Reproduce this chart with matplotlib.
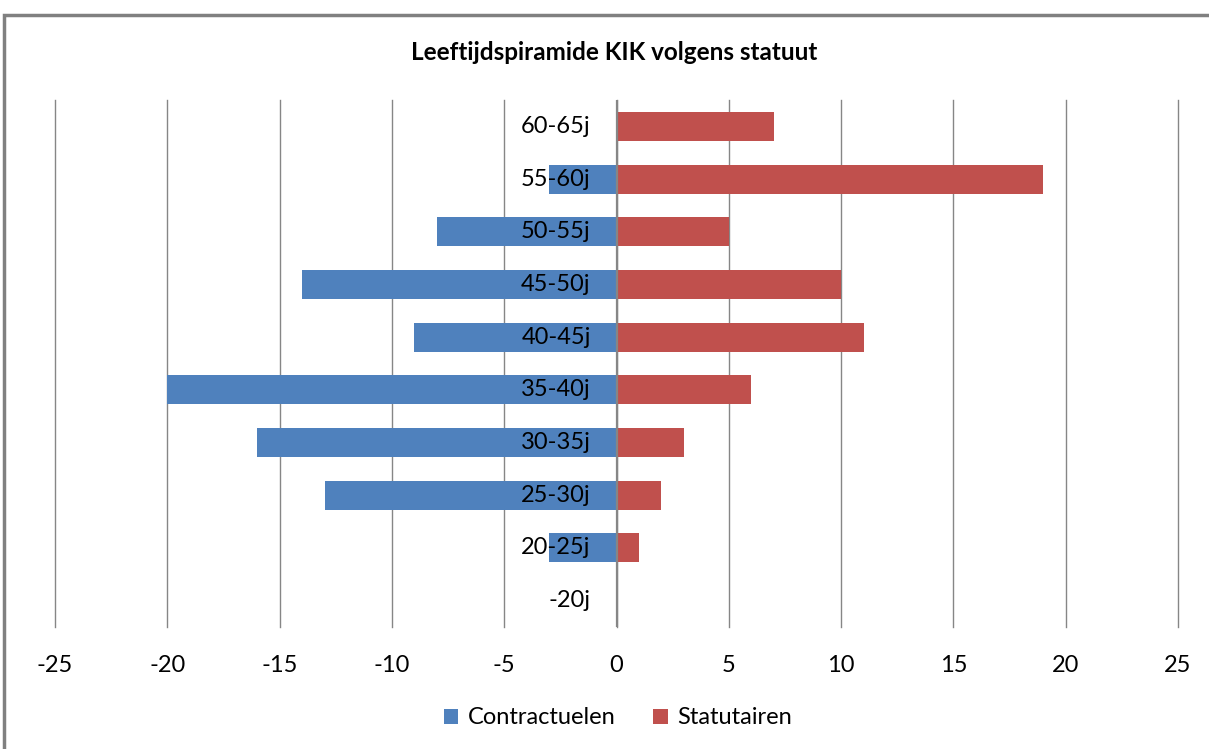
import numpy as np
import matplotlib
matplotlib.use('Agg')
import matplotlib.pyplot as plt
from matplotlib.patches import Rectangle

plt.rcParams['font.family'] = ['Lato', 'DejaVu Sans']

# leeftijdsgroepen, van onder naar boven
categories = ['-20j', '20-25j', '25-30j', '30-35j', '35-40j',
              '40-45j', '45-50j', '50-55j', '55-60j', '60-65j']
contractuelen = [0, -3, -13, -16, -20, -9, -14, -8, -3, 0]
statutairen = [0, 1, 2, 3, 6, 11, 10, 5, 19, 7]
xticks = [-25, -20, -15, -10, -5, 0, 5, 10, 15, 20, 25]

W, H = 1209, 749
fig = plt.figure(figsize=(W / 100, H / 100), dpi=100)
ax = fig.add_axes([55 / W, (H - 627) / H, (1178 - 55) / W, (627 - 100) / H])

y = np.arange(len(categories))
ax.barh(y, contractuelen, height=0.55, color='#4F81BD', label='Contractuelen', zorder=2)
ax.barh(y, statutairen, height=0.55, color='#C0504D', label='Statutairen', zorder=2)

ax.set_xlim(-25, 25)
ax.set_ylim(-0.5, len(categories) - 0.5)
ax.set_xticks(xticks)
ax.set_xticklabels([str(v) for v in xticks], fontsize=17)
ax.tick_params(axis='x', length=0, pad=20)
ax.set_yticks([])
for v in xticks:
    ax.axvline(v, color='#868686', lw=1, zorder=1, clip_on=False)
ax.axvline(0, color='#868686', lw=1.6, zorder=3)
for s in ax.spines.values():
    s.set_visible(False)

# labels naast de as
for yi, lab in zip(y, categories):
    ax.text(-1.15, yi, lab, ha='right', va='center', fontsize=17, zorder=4)

fig.text(614 / W, 1 - 53 / H, 'Leeftijdspiramide KIK volgens statuut',
         ha='center', va='center', fontsize=17.5, fontweight='bold')

leg = fig.legend(loc='center', bbox_to_anchor=(618 / W, 1 - 718 / H), ncol=2,
                 frameon=False, fontsize=17, handlelength=0.6, handleheight=0.6,
                 handletextpad=0.4, columnspacing=1.6)

# kader rond de grafiek (rechts en onder buiten beeld)
fig.patches.append(Rectangle((4 / W, -0.5), 1.2, 1.5 - 15 / H, transform=fig.transFigure,
                             fill=False, edgecolor='#808080', lw=2.5, zorder=10))

fig.savefig('out.png', dpi=100)
